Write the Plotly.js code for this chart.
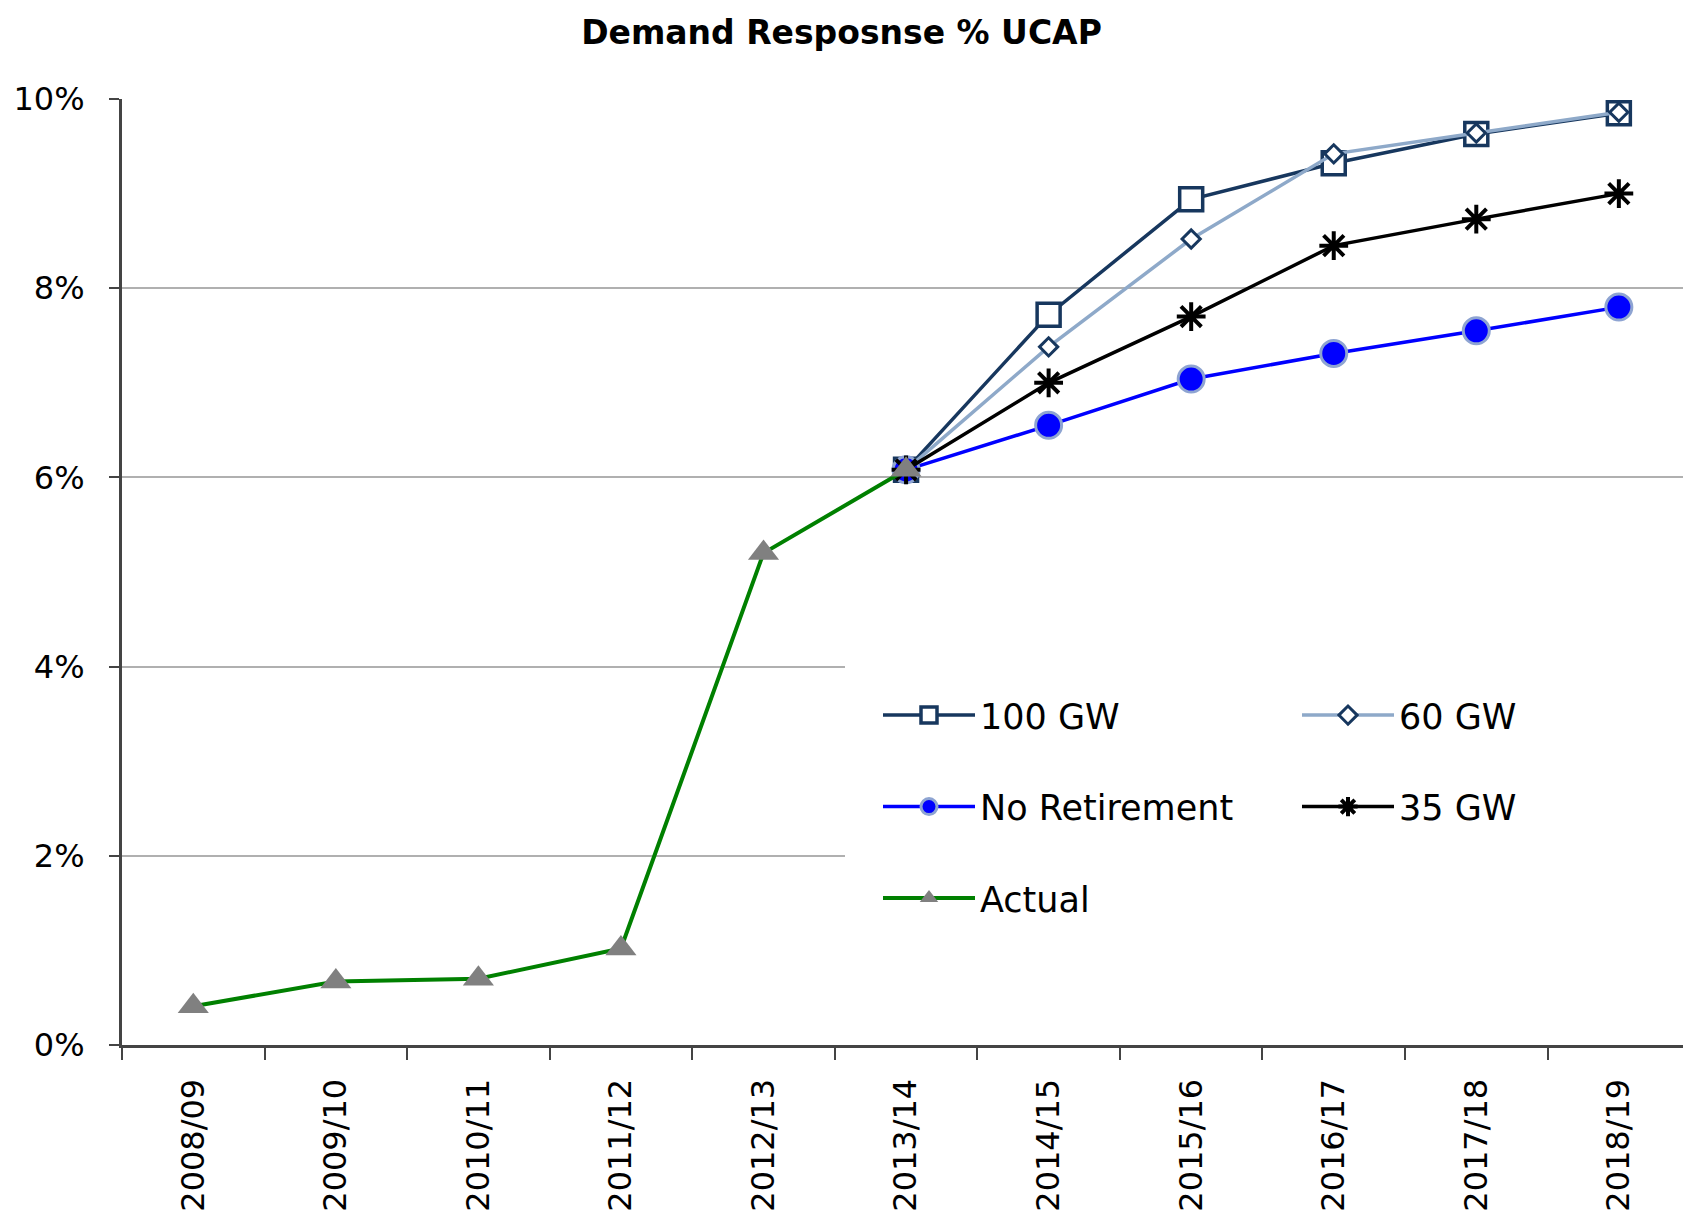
<!DOCTYPE html>
<html>
<head>
<meta charset="utf-8">
<script src="https://cdn.plot.ly/plotly-3.0.1.min.js"></script>
<style>html,body{margin:0;padding:0;background:#fff;}#chart{width:1683px;height:1218px;}</style>
</head>
<body>
<div id="chart"></div>
<script>
// Categories (fiscal years)
const categories = ['2008/09','2009/10','2010/11','2011/12','2012/13','2013/14','2014/15','2015/16','2016/17','2017/18','2018/19'];
const actualYears = ['2008/09','2009/10','2010/11','2011/12','2012/13','2013/14'];
const scenarioYears = ['2013/14','2014/15','2015/16','2016/17','2017/18','2018/19'];

// Values in % of UCAP
const actual = [0.41, 0.67, 0.70, 1.02, 5.20, 6.08];
const gw100 = [6.08, 7.72, 8.94, 9.32, 9.63, 9.85];
const gw60 = [6.08, 7.38, 8.52, 9.42, 9.64, 9.86];
const noRetirement = [6.08, 6.55, 7.04, 7.31, 7.55, 7.80];
const gw35 = [6.08, 7.00, 7.70, 8.45, 8.73, 9.00];

const yTicks = [0, 2, 4, 6, 8, 10];

const FONT = 'DejaVu Sans, Liberation Sans, Arial, sans-serif';

const traces = [
  {name: '100 GW', x: scenarioYears, y: gw100, type: 'scatter', mode: 'lines+markers',
   legend: 'legend', legendgroup: 'a',
   line: {color: '#17375E', width: 3.5},
   marker: {symbol: 'square', size: 23, color: '#ffffff', line: {color: '#17375E', width: 3.5}}},
  {name: '60 GW', x: scenarioYears, y: gw60, type: 'scatter', mode: 'lines+markers',
   legend: 'legend2', legendgroup: 'b',
   line: {color: '#8EA9C9', width: 3.5},
   marker: {symbol: 'diamond', size: 14, color: '#ffffff', line: {color: '#17375E', width: 3}}},
  {name: 'No Retirement', x: scenarioYears, y: noRetirement, type: 'scatter', mode: 'lines+markers',
   legend: 'legend', legendgroup: 'c',
   line: {color: '#0000FF', width: 3.5},
   marker: {symbol: 'circle', size: 26, color: '#0000FF', line: {color: '#8EA4D2', width: 3}}},
  {name: '35 GW', x: scenarioYears, y: gw35, type: 'scatter', mode: 'lines+markers',
   legend: 'legend2', legendgroup: 'd',
   line: {color: '#000000', width: 3.5},
   marker: {symbol: 'asterisk-open', size: 24, color: '#000000', line: {color: '#000000', width: 4}}},
  {name: 'Actual', x: actualYears, y: actual, type: 'scatter', mode: 'lines+markers',
   legend: 'legend', legendgroup: 'e',
   line: {color: '#008000', width: 4},
   marker: {symbol: 'triangle-up', size: 27, color: '#808080', line: {width: 0}}}
];

const legendCommon = {
  orientation: 'v', bgcolor: 'rgba(0,0,0,0)', borderwidth: 0,
  font: {family: FONT, size: 35, color: '#000'},
  itemwidth: 92, traceorder: 'grouped', tracegroupgap: 43,
  xref: 'paper', yref: 'paper', xanchor: 'left', yanchor: 'top'
};

const layout = {
  width: 1683, height: 1218,
  paper_bgcolor: '#ffffff', plot_bgcolor: '#ffffff',
  margin: {l: 122, r: 0, t: 99, b: 173, pad: 0, autoexpand: false},
  title: {text: 'Demand Resposnse % UCAP', x: 0.5, xref: 'container', xanchor: 'center',
          y: 1 - 32/1218, yref: 'container', yanchor: 'middle',
          font: {family: FONT, size: 33, color: '#000', weight: 'bold'}},
  showlegend: true,
  legend: Object.assign({}, legendCommon, {x: (878-122)/1561, y: (1045.4-686)/946.7}),
  legend2: Object.assign({}, legendCommon, {x: (1297-122)/1561, y: (1045.4-686)/946.7}),
  xaxis: {type: 'category', categoryorder: 'array', categoryarray: categories,
          range: [-0.5, 10.45], tickson: 'boundaries', ticks: 'outside', ticklen: 12,
          tickwidth: 2, tickcolor: '#444', showline: true, linecolor: '#444', linewidth: 3,
          showgrid: false, zeroline: false, tickangle: -90, ticklabelstandoff: 18,
          automargin: false,
          tickfont: {family: FONT, size: 32, color: '#000'}},
  yaxis: {range: [0, 10], tickvals: yTicks, ticktext: yTicks.map(v => v + '%'),
          ticks: 'outside', ticklen: 10, tickwidth: 2, tickcolor: '#444',
          showline: true, linecolor: '#444', linewidth: 3,
          showgrid: true, gridcolor: '#b0b0b0', gridwidth: 2, zeroline: false,
          ticklabelstandoff: 18, automargin: false,
          tickfont: {family: FONT, size: 32, color: '#000'}},
  shapes: [{type: 'rect', xref: 'paper', yref: 'y', x0: (845-122)/1561, x1: 1, y0: 1, y1: 4.8,
            fillcolor: '#ffffff', line: {width: 0}, layer: 'above'}]
};

Plotly.newPlot('chart', traces, layout, {displayModeBar: false, staticPlot: true});
</script>
</body>
</html>
